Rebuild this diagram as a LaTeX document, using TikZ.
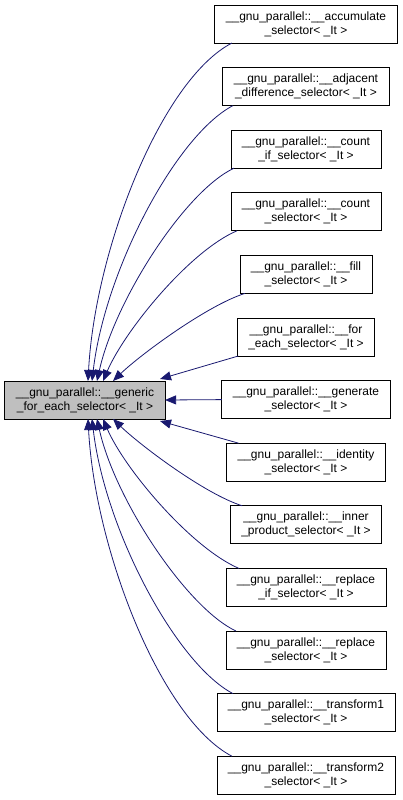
\documentclass[tikz,border=0pt]{standalone}
\usepackage{fontspec}
\setmainfont{Liberation Sans}
\usetikzlibrary{arrows.meta,positioning}
\definecolor{EdgeBlue}{HTML}{191970}
\definecolor{FocusGrey}{HTML}{BFBFBF}

\begin{document}
\begin{tikzpicture}[x=1pt, y=-1pt, node distance=24.6pt,
  every node/.style={font=\fontsize{12}{14}\selectfont},
  cls/.style={rectangle, draw=black, line width=0.9pt, outer sep=0pt, minimum height=38pt, inner xsep=11pt, align=center},
  inh/.style={EdgeBlue, line width=0.8pt, -{Triangle[length=11pt,width=9pt]}}]
  \useasboundingbox (0,0) rectangle (403,800);
  % base class
  \node[cls, fill=FocusGrey, minimum width=160pt] (gen) at (85,400) {\_\_gnu\_parallel::\_\_generic\\\_for\_each\_selector< \_It >};
  % derived selectors
  \node[cls] (acc) at (306,24) {\_\_gnu\_parallel::\_\_accumulate\\\_selector< \_It >};
  \node[cls, below=of acc] (adj) {\_\_gnu\_parallel::\_\_adjacent\\\_difference\_selector< \_It >};
  \node[cls, below=of adj] (cntif) {\_\_gnu\_parallel::\_\_count\\\_if\_selector< \_It >};
  \node[cls, below=of cntif] (cnt) {\_\_gnu\_parallel::\_\_count\\\_selector< \_It >};
  \node[cls, below=of cnt] (fill) {\_\_gnu\_parallel::\_\_fill\\\_selector< \_It >};
  \node[cls, below=of fill] (foreach) {\_\_gnu\_parallel::\_\_for\\\_each\_selector< \_It >};
  \node[cls, below=of foreach] (gener) {\_\_gnu\_parallel::\_\_generate\\\_selector< \_It >};
  \node[cls, below=of gener] (ident) {\_\_gnu\_parallel::\_\_identity\\\_selector< \_It >};
  \node[cls, below=of ident] (inner) {\_\_gnu\_parallel::\_\_inner\\\_product\_selector< \_It >};
  \node[cls, below=of inner] (replif) {\_\_gnu\_parallel::\_\_replace\\\_if\_selector< \_It >};
  \node[cls, below=of replif] (repl) {\_\_gnu\_parallel::\_\_replace\\\_selector< \_It >};
  \node[cls, below=of repl] (trone) {\_\_gnu\_parallel::\_\_transform1\\\_selector< \_It >};
  \node[cls, below=of trone] (trtwo) {\_\_gnu\_parallel::\_\_transform2\\\_selector< \_It >};
  % inheritance edges
  \draw[inh] ([xshift=17pt]acc.south west) .. controls +(-71,37) and +(7,-131) .. ([xshift=3pt]gen.north);
  \draw[inh] ([xshift=10pt]adj.south west) .. controls +(-57,30) and +(13,-111) .. ([xshift=7pt]gen.north);
  \draw[inh] ([xshift=3pt]cntif.south west) .. controls +(-49,23) and +(18,-81) .. ([xshift=12pt]gen.north);
  \draw[inh] ([xshift=6pt]cnt.south west) .. controls +(-47,20) and +(22,-51) .. ([xshift=18pt]gen.north);
  \draw[inh] ([xshift=5pt]fill.south west) .. controls +(-38,12) and +(27,-26) .. ([xshift=28pt]gen.north);
  \draw[inh] ([xshift=1pt]foreach.south west) -- ([xshift=75pt,yshift=2pt]gen.north);
  \draw[inh] (gener.west) -- (gen.east);
  \draw[inh] ([xshift=12pt]ident.north west) -- ([xshift=75pt,yshift=-2pt]gen.south);
  \draw[inh] ([xshift=12pt]inner.north west) .. controls +(-38,-12) and +(27,26) .. ([xshift=28pt]gen.south);
  \draw[inh] ([xshift=13pt]replif.north west) .. controls +(-47,-20) and +(22,51) .. ([xshift=18pt]gen.south);
  \draw[inh] ([xshift=10pt]repl.north west) .. controls +(-49,-23) and +(18,81) .. ([xshift=12pt]gen.south);
  \draw[inh] ([xshift=16pt]trone.north west) .. controls +(-57,-30) and +(13,111) .. ([xshift=7pt]gen.south);
  \draw[inh] ([xshift=15pt]trtwo.north west) .. controls +(-71,-37) and +(7,131) .. ([xshift=3pt]gen.south);
\end{tikzpicture}
\end{document}
